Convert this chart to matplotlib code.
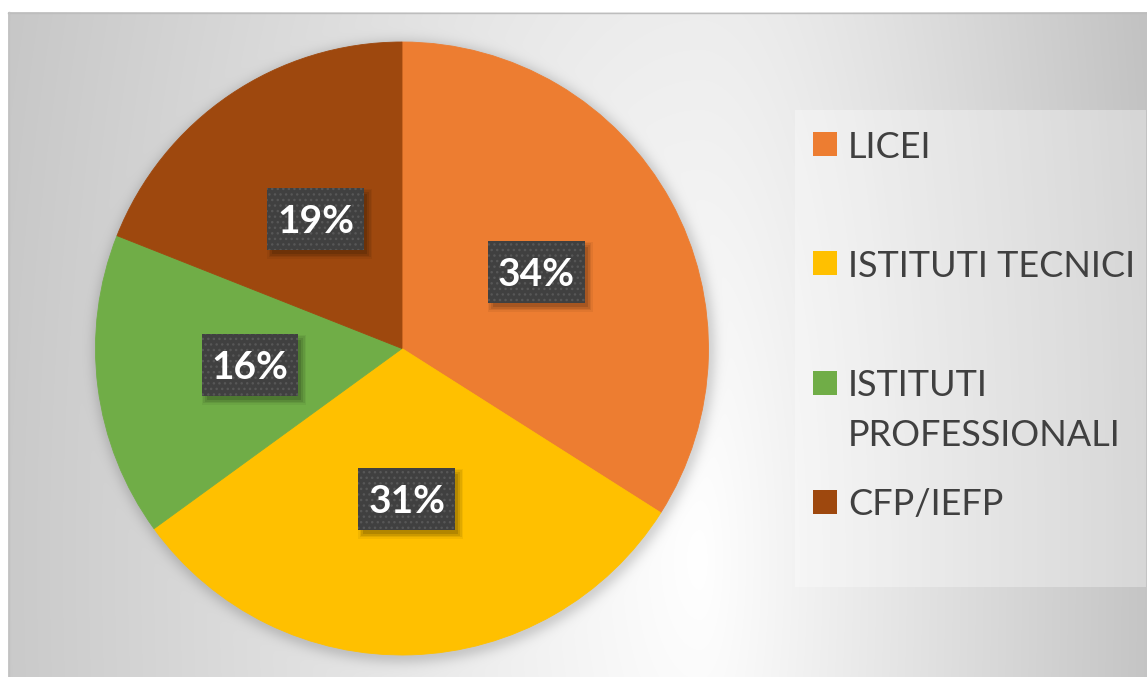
import numpy as np
import matplotlib
matplotlib.use("Agg")
import matplotlib.pyplot as plt
from matplotlib.patches import Rectangle
from matplotlib.transforms import IdentityTransform

# ---- data ----
categories = ["LICEI", "ISTITUTI TECNICI", "ISTITUTI\nPROFESSIONALI", "CFP/IEFP"]
values = [34, 31, 16, 19]
colors = ["#ED7D31", "#FFC000", "#70AD47", "#9E480E"]

# ---- layout ----
W, H = 1147, 677
CX, CY, R = 402, 348.5, 306.5
FONT = "Lato"

fig = plt.figure(figsize=(W / 100, H / 100), dpi=100)

# background gradient + pie shadow
bg = fig.add_axes([0, 0, 1, 1])
bg.set_xlim(0, W)
bg.set_ylim(H, 0)
bg.axis("off")
yy, xx = np.mgrid[0:H, 0:W] + 0.5
gx0, gy0 = 700, 560
sx = np.where(xx < gx0, 780, 460)
d = np.sqrt(((xx - gx0) / sx) ** 2 + ((yy - gy0) / 1800) ** 2)
val = 255 - 60 * np.clip(d, 0, 1.15)
r = np.hypot(xx - (CX + 2), yy - (CY + 3))
sh = 0.15 * np.exp(-(np.clip(r - R + 3, 0, None) / 10.0) ** 2)
val = val * (1 - sh)
val[(yy < 12) | (xx < 8)] = 255
img = np.dstack([val, val, val]) / 255.0
bg.imshow(img, extent=[0, W, H, 0], aspect="auto", interpolation="bilinear")
bg.plot([8, W], [12.5, 12.5], color="#bdbdbd", lw=1)
bg.plot([8.5, 8.5], [12, H], color="#c2c2c2", lw=1)

# legend box (semi-transparent white)
bg.add_patch(Rectangle((795, 110), 351, 477, facecolor="white", alpha=0.32, lw=0))

# pie
ax = fig.add_axes([(CX - R) / W, (H - CY - R) / H, 2 * R / W, 2 * R / H])
ax.patch.set_alpha(0)
wedges, texts, autotexts = ax.pie(
    values, colors=colors, startangle=90, counterclock=False,
    autopct=lambda p: f"{p:.0f}%", pctdistance=0.5,
    wedgeprops=dict(linewidth=0.6, edgecolor="none"))
for w, c in zip(wedges, colors):
    w.set_edgecolor(c)
ax.set_xlim(-1, 1)
ax.set_ylim(-1, 1)
ax.set_aspect("equal")
ax.axis("off")

for t in autotexts:
    t.set_color("white")
    t.set_fontsize(28)
    t.set_fontweight("bold")
    t.set_family(FONT)
    t.set_zorder(5)

# label boxes (dark, dotted) with a soft drop shadow
fig.canvas.draw()
renderer = fig.canvas.get_renderer()
PADX, BOXH, LIFT = 10, 62, 3
for t in autotexts:
    bb = t.get_window_extent(renderer)
    px, py = ax.transData.transform(t.get_position())
    bw = bb.width + 2 * PADX
    bx0, by0 = px - bw / 2, py + LIFT - BOXH / 2
    for grow, a in [(4, 0.05), (2.5, 0.07), (1, 0.09), (-1, 0.12)]:
        ax.add_patch(Rectangle((bx0 + 4 - grow, by0 - 5 - grow),
                               bw + 2 * grow, BOXH + 2 * grow,
                               transform=IdentityTransform(), facecolor="black",
                               alpha=a, lw=0, zorder=3))
    ax.add_patch(Rectangle((bx0, by0), bw, BOXH, transform=IdentityTransform(),
                           facecolor="#404040", edgecolor="#575757", lw=0,
                           hatch="...", zorder=4))

# legend (manual, Excel-like equal slots)
y0, step = 144, 119.3
for i, (lab, c) in enumerate(zip(categories, colors)):
    yc = y0 + i * step
    bg.add_patch(Rectangle((813, yc - 12), 24, 24, facecolor=c, lw=0))
    for k, line in enumerate(lab.split("\n")):
        bg.text(848, yc + k * 50, line, ha="left", va="center_baseline",
                fontsize=26, family=FONT, color="#404040")

fig.savefig("out.png", dpi=100)
